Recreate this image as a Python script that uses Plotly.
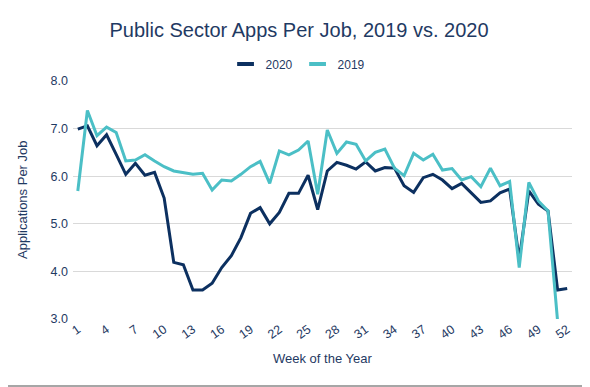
import plotly.graph_objects as go

weeks = list(range(1, 53))

apps_2020 = [6.99, 7.06, 6.64, 6.87, 6.46, 6.04, 6.27, 6.02, 6.08, 5.54,
             4.19, 4.14, 3.61, 3.61, 3.75, 4.08, 4.33, 4.71, 5.22, 5.34,
             5.00, 5.24, 5.64, 5.64, 6.02, 5.30, 6.11, 6.29, 6.23, 6.15,
             6.30, 6.11, 6.18, 6.17, 5.80, 5.66, 5.97, 6.04, 5.92, 5.74,
             5.85, 5.66, 5.45, 5.48, 5.65, 5.73, 4.25, 5.69, 5.41, 5.27,
             3.61, 3.64]

apps_2019 = [5.69, 7.38, 6.85, 7.03, 6.92, 6.32, 6.34, 6.45, 6.32, 6.20,
             6.11, 6.07, 6.04, 6.06, 5.71, 5.92, 5.90, 6.04, 6.20, 6.31,
             5.85, 6.53, 6.45, 6.55, 6.74, 5.62, 6.97, 6.48, 6.72, 6.67,
             6.32, 6.50, 6.57, 6.17, 6.01, 6.48, 6.34, 6.46, 6.13, 6.16,
             5.92, 5.99, 5.78, 6.17, 5.80, 5.89, 4.08, 5.87, 5.48, 5.27,
             2.95, None]

x_ticks = list(range(1, 53, 3))
y_ticks = [3.0, 4.0, 5.0, 6.0, 7.0, 8.0]

navy = "#0c3060"
cyan = "#4bbfc6"
text_col = "#1f3a63"

# the page body has an 8px default margin, so the figure is sized to fit the window
W, H = 582, 379
L, T, PW, PH = 65, 73, 499, 238

fig = go.Figure()
fig.add_trace(go.Scatter(x=weeks, y=apps_2020, mode="lines", name="2020",
                         line=dict(color=navy, width=3), showlegend=False))
fig.add_trace(go.Scatter(x=weeks, y=apps_2019, mode="lines", name="2019",
                         line=dict(color=cyan, width=3), showlegend=False))
# legend entries with short thick bar symbols
for name, col in (("2020", navy), ("2019", cyan)):
    fig.add_trace(go.Scatter(x=[None], y=[None], mode="markers", name=name,
                             marker=dict(symbol="line-ew-open", size=12, color=col,
                                         line=dict(color=col, width=4))))

fig.update_layout(
    width=W, height=H,
    margin=dict(l=L, r=W - L - PW, t=T, b=H - T - PH),
    paper_bgcolor="white", plot_bgcolor="white",
    font=dict(family="Liberation Sans, Arial, sans-serif", color=text_col, size=12),
    title=dict(text="Public Sector Apps Per Job, 2019 vs. 2020",
               x=0.5, xanchor="center", y=1 - 22 / H, yanchor="middle",
               font=dict(size=20, color=text_col)),
    legend=dict(orientation="h", x=0.451, xanchor="center", y=1.071, yanchor="middle",
                font=dict(size=12, color=text_col), itemwidth=30,
                traceorder="normal"),
    showlegend=True,
)
fig.update_xaxes(range=[0.5, 52.5], tickmode="array", tickvals=x_ticks,
                 ticktext=[str(v) for v in x_ticks], tickangle=-35,
                 showgrid=False, zeroline=False, showline=False, automargin=False,
                 tickfont=dict(size=12.5, color=text_col))
fig.update_yaxes(range=[3, 8], tickmode="array", tickvals=y_ticks,
                 ticktext=[f"{v:.1f}" for v in y_ticks],
                 showgrid=True, gridcolor="#d9d9d9", gridwidth=1.3,
                 zeroline=False, showline=False, automargin=False,
                 ticklabelstandoff=4,
                 tickfont=dict(size=12.5, color=text_col))
fig.add_annotation(text="Week of the Year", xref="paper", yref="paper",
                   x=0.5, y=(311 - 350) / PH, xanchor="center", yanchor="middle",
                   showarrow=False, font=dict(size=13, color=text_col))
fig.add_annotation(text="Applications Per Job", xref="paper", yref="paper",
                   x=(14 - L) / PW, y=0.5, xanchor="center", yanchor="middle",
                   textangle=-90, showarrow=False, font=dict(size=13, color=text_col))
fig.add_shape(type="line", xref="paper", yref="paper", x0=-0.2, x1=1.1,
              y0=(311 - 378) / PH, y1=(311 - 378) / PH,
              line=dict(color="#a6a6a6", width=2))

fig.write_html("out.html")
